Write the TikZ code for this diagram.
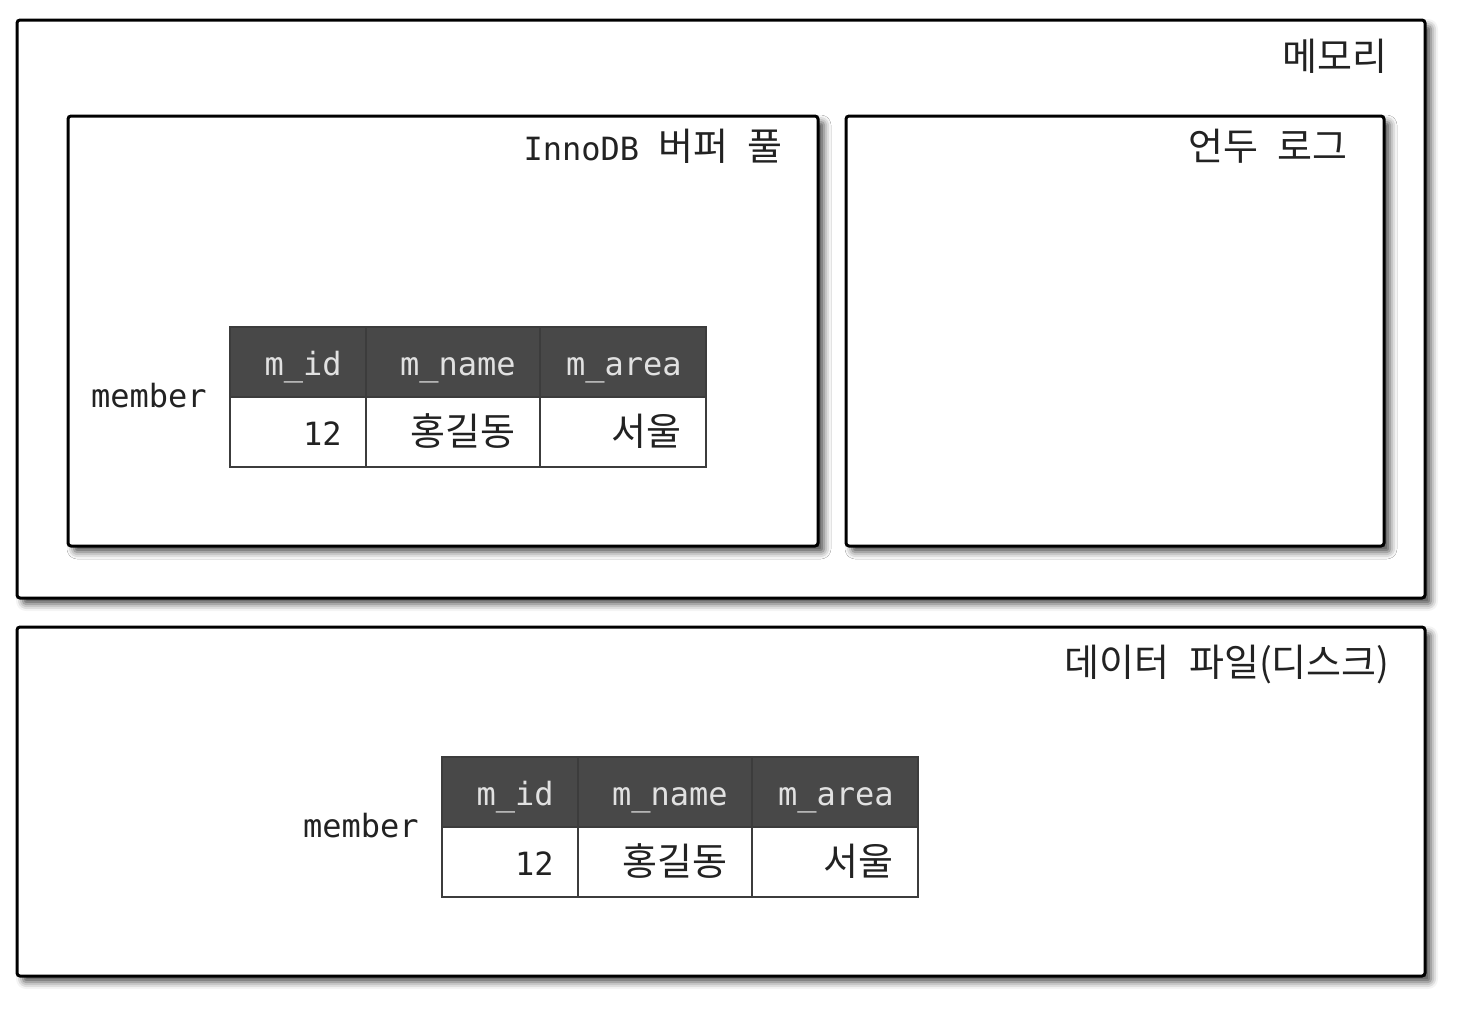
\documentclass[tikz,border=0pt]{standalone}
\usepackage{fontspec}
\setmainfont{DejaVu Sans Mono}
\newfontfamily\kr{Noto Sans CJK KR}
\newcommand{\ko}[1]{{\kr\fontsize{19}{21}\selectfont #1}}
\usetikzlibrary{positioning,shadows.blur}
\definecolor{hdgray}{RGB}{72,72,72}
\definecolor{hdtext}{RGB}{225,225,225}
\definecolor{inkgray}{RGB}{34,34,34}
\definecolor{cellgray}{RGB}{60,60,60}

\tikzset{
  areabox/.style={draw=black, line width=1.5pt, rounded corners=1.5pt, fill=white,
    blur shadow={shadow xshift=3pt, shadow yshift=-3pt, shadow blur radius=3.5pt, shadow opacity=70}},
  arealabel/.style={font=\fontsize{16}{18}\selectfont, text=inkgray, anchor=base east, inner sep=0pt},
  headtext/.style={font=\fontsize{16}{18}\selectfont, text=hdtext, anchor=base east, inner sep=0pt},
  celltext/.style={font=\fontsize{16}{18}\selectfont, text=inkgray, anchor=base east, inner sep=0pt},
  tabname/.style={font=\fontsize{16}{18}\selectfont, text=inkgray, anchor=base east, inner sep=0pt},
  cellline/.style={draw=cellgray, line width=1pt}
}

% one member table, top left corner at (#2,#3)
\newcommand{\membertable}[3]{%
  \begin{scope}[shift={(#2,#3)}]
    \fill[hdgray] (0,0) rectangle (476,70);
    \draw[cellline] (0,0) rectangle (476,140);
    \draw[cellline] (0,70) -- (476,70);
    \foreach \x in {136,310} {
      \draw[cellline] (\x,0) -- (\x,140);
    }
    \node[headtext] (#1id) at (112,48) {m\_id};
    \node[headtext] (#1name) at (286,48) {m\_name};
    \node[headtext] (#1area) at (452,48) {m\_area};
    \node[celltext] (#1no) at (112,118) {12};
    \node[celltext] (#1who) at (286,118) {\ko{홍길동}};
    \node[celltext] (#1city) at (452,118) {\ko{서울}};
    \node[tabname] (#1label) at (-23,80) {member};
  \end{scope}}

\begin{document}
\begin{tikzpicture}[x=0.5pt, y=-0.5pt]
\useasboundingbox (0,0) rectangle (1460,1008);
% memory
\draw[areabox] (17,20) rectangle (1425,598);
\node[arealabel] (memlabel) at (1388,70) {\ko{메모리}};
% buffer pool
\draw[areabox] (68,116) rectangle (818,546);
\node[arealabel] (poollabel) at (783,160) {InnoDB \ko{버퍼} \ko{풀}};
\membertable{p}{230}{327}
% undo log
\draw[areabox] (846,116) rectangle (1384,546);
\node[arealabel] (undolabel) at (1348,160) {\ko{언두} \ko{로그}};
% data file
\draw[areabox] (17,627) rectangle (1425,976);
\node[arealabel] (disklabel) at (1390,676) {\ko{데이터} \ko{파일(디스크)}};
\membertable{d}{442}{757}
\end{tikzpicture}
\end{document}
